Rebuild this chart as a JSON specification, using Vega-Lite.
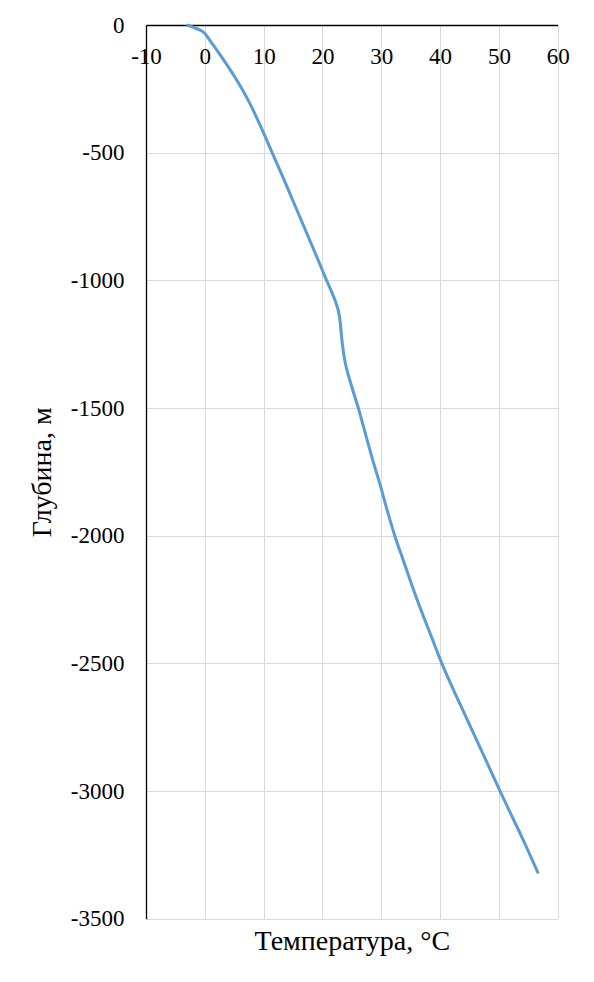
{
  "$schema": "https://vega.github.io/schema/vega-lite/v6.json",
  "width": 411.7,
  "height": 893.7,
  "autosize": {"type": "none"},
  "padding": {"left": 146, "top": 25, "right": 36.3, "bottom": 63.3},
  "background": "white",
  "config": {
    "view": {"stroke": null},
    "font": "Liberation Serif",
    "axis": {
      "labelFont": "Liberation Serif",
      "titleFont": "Liberation Serif",
      "labelColor": "black",
      "titleColor": "black",
      "titleFontWeight": "normal",
      "gridColor": "#d9d9d9",
      "gridWidth": 1,
      "domainColor": "black",
      "domainWidth": 1.3,
      "ticks": false,
      "tickSize": 0
    }
  },
  "data": {
    "values": [
      {"t": -3.1, "depth": 0},
      {"t": -1.4, "depth": -14},
      {"t": 0.0, "depth": -33},
      {"t": 1.0, "depth": -65},
      {"t": 2.1, "depth": -100},
      {"t": 3.6, "depth": -150},
      {"t": 5.0, "depth": -200},
      {"t": 6.3, "depth": -250},
      {"t": 7.5, "depth": -300},
      {"t": 9.55, "depth": -400},
      {"t": 11.45, "depth": -500},
      {"t": 13.35, "depth": -600},
      {"t": 15.2, "depth": -700},
      {"t": 17.05, "depth": -800},
      {"t": 18.9, "depth": -900},
      {"t": 20.7, "depth": -1000},
      {"t": 21.65, "depth": -1050},
      {"t": 22.4, "depth": -1095},
      {"t": 22.8, "depth": -1130},
      {"t": 23.05, "depth": -1170},
      {"t": 23.25, "depth": -1220},
      {"t": 23.5, "depth": -1270},
      {"t": 23.85, "depth": -1320},
      {"t": 24.4, "depth": -1370},
      {"t": 24.9, "depth": -1410},
      {"t": 26.1, "depth": -1500},
      {"t": 27.3, "depth": -1600},
      {"t": 28.5, "depth": -1700},
      {"t": 29.8, "depth": -1800},
      {"t": 31.0, "depth": -1900},
      {"t": 32.3, "depth": -2000},
      {"t": 33.8, "depth": -2100},
      {"t": 35.3, "depth": -2200},
      {"t": 36.9, "depth": -2300},
      {"t": 38.6, "depth": -2400},
      {"t": 40.3, "depth": -2500},
      {"t": 42.2, "depth": -2600},
      {"t": 44.2, "depth": -2700},
      {"t": 46.2, "depth": -2800},
      {"t": 48.2, "depth": -2900},
      {"t": 50.2, "depth": -3000},
      {"t": 52.25, "depth": -3100},
      {"t": 54.3, "depth": -3200},
      {"t": 56.7, "depth": -3323}
    ]
  },
  "mark": {"type": "line", "color": "#5b9bd5", "strokeWidth": 3, "interpolate": "monotone", "clip": false},
  "encoding": {
    "order": {"field": "depth", "type": "quantitative", "sort": "descending"},
    "x": {
      "field": "t",
      "type": "quantitative",
      "scale": {"domain": [-10, 60], "nice": false, "zero": false},
      "axis": {
        "orient": "top",
        "values": [-10, 0, 10, 20, 30, 40, 50, 60],
        "labelExpr": "'' + datum.value",
        "labelFont": "Liberation Serif",
        "labelFontSize": 23,
        "labelPadding": -38,
        "labelBaseline": "alphabetic",
        "labelFlush": false,
        "labelOverlap": false,
        "title": "Температура, °C",
        "titleFont": "Liberation Serif",
        "titleFontSize": 28,
        "titleX": 205.85,
        "titleY": 924,
        "titleAnchor": null,
        "titleAlign": "center",
        "titleBaseline": "alphabetic"
      }
    },
    "y": {
      "field": "depth",
      "type": "quantitative",
      "scale": {"domain": [-3500, 0], "nice": false, "zero": false},
      "axis": {
        "orient": "left",
        "values": [0, -500, -1000, -1500, -2000, -2500, -3000, -3500],
        "labelExpr": "'' + datum.value",
        "labelFont": "Liberation Serif",
        "labelFontSize": 23,
        "labelPadding": 22,
        "labelBaseline": "middle",
        "labelOverlap": false,
        "labelFlush": false,
        "title": "Глубина, м",
        "titleFont": "Liberation Serif",
        "titleFontSize": 28,
        "titleAngle": -90,
        "titleX": -96,
        "titleY": 446.85,
        "titleAlign": "center",
        "titleBaseline": "alphabetic"
      }
    }
  }
}
